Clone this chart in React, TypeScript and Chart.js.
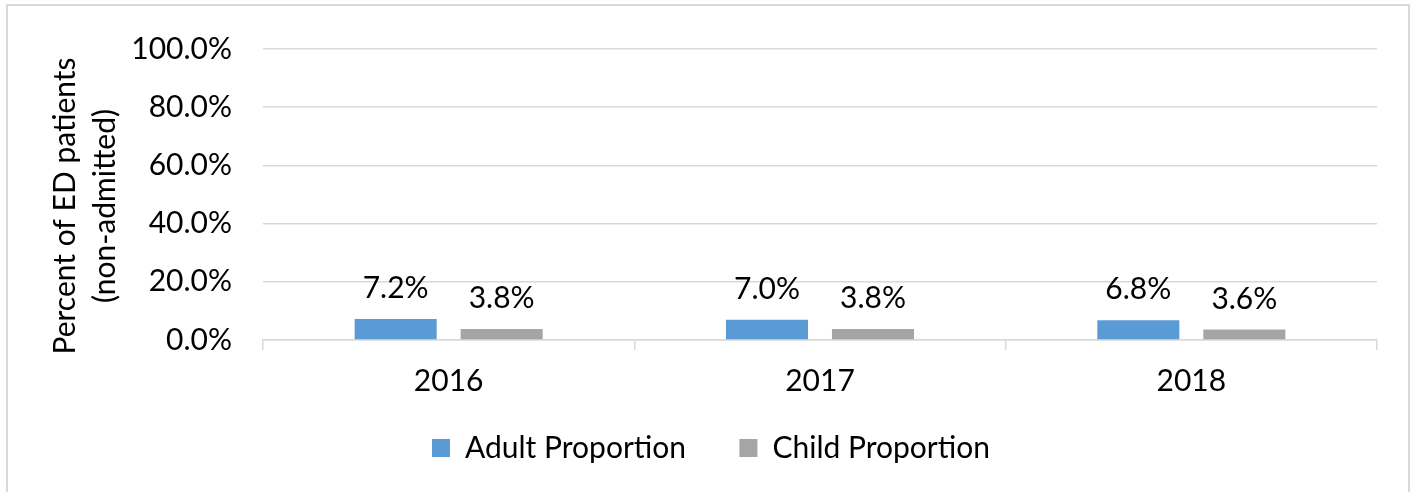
import React, { useEffect, useRef } from "react";
import { Chart, registerables } from "chart.js";

Chart.register(...registerables);

const categories = ["2016", "2017", "2018"];
const adultValues = [7.2, 7.0, 6.8];
const childValues = [3.8, 3.8, 3.6];
const seriesNames = ["Adult Proportion", "Child Proportion"];
const yTitleLines = ["Percent of ED patients   ", "(non-admitted)   "];

const FONT = "Lato";

const valueLabels = {
  id: "valueLabels",
  afterDatasetsDraw(chart: any) {
    const ctx = chart.ctx;
    ctx.save();
    ctx.font = `30px ${FONT}`;
    ctx.fillStyle = "#000000";
    ctx.textAlign = "center";
    ctx.textBaseline = "alphabetic";
    chart.data.datasets.forEach((ds: any, di: number) => {
      const meta = chart.getDatasetMeta(di);
      meta.data.forEach((el: any, i: number) => {
        const v = ds.data[i] as number;
        ctx.fillText(v.toFixed(1) + "%", el.x, el.y - 21);
      });
    });
    ctx.restore();
  },
};

export default function App() {
  const ref = useRef<HTMLCanvasElement | null>(null);

  useEffect(() => {
    if (!ref.current) return;
    const chart = new Chart(ref.current, {
      type: "bar",
      data: {
        labels: categories,
        datasets: [
          {
            label: seriesNames[0],
            data: adultValues,
            backgroundColor: "#5B9BD5",
            categoryPercentage: 0.571,
            barPercentage: 0.774,
          },
          {
            label: seriesNames[1],
            data: childValues,
            backgroundColor: "#A5A5A5",
            categoryPercentage: 0.571,
            barPercentage: 0.774,
          },
        ],
      },
      options: {
        animation: false,
        responsive: false,
        maintainAspectRatio: false,
        devicePixelRatio: 1,
        layout: { padding: { left: 45, right: 38, top: 40, bottom: 19 } },
        plugins: {
          tooltip: { enabled: false },
          legend: {
            position: "bottom",
            labels: {
              font: { family: FONT, size: 30 },
              color: "#000000",
              boxWidth: 18,
              boxHeight: 18,
              padding: 38,
              generateLabels: (chart: any) => {
                const items = Chart.defaults.plugins.legend.labels.generateLabels(chart);
                return items.map((it: any, i: number) =>
                  i < items.length - 1 ? { ...it, text: it.text + "  " } : it
                );
              },
            },
          },
        },
        scales: {
          x: {
            afterFit: (s: any) => {
              s.height = 55;
            },
            grid: {
              display: true,
              drawOnChartArea: false,
              drawTicks: true,
              tickLength: 10,
              color: "#D9D9D9",
              lineWidth: 1.5,
            },
            border: { display: true, color: "#D9D9D9", width: 1.5 },
            ticks: {
              font: { family: FONT, size: 30 },
              color: "#000000",
              padding: 13,
              maxRotation: 0,
            },
          },
          y: {
            min: 0,
            max: 100,
            afterFit: (s: any) => {
              s.width = 218;
            },
            grid: {
              color: "#D9D9D9",
              lineWidth: 1.5,
              drawTicks: false,
            },
            border: { display: false },
            ticks: {
              stepSize: 20,
              padding: 31,
              font: { family: FONT, size: 30 },
              color: "#000000",
              callback: (v: any) => Number(v).toFixed(1) + "%",
            },
            title: {
              display: true,
              text: yTitleLines,
              font: { family: FONT, size: 30, lineHeight: 1.333 },
              color: "#000000",
              padding: { top: 0, bottom: 0 },
            },
          },
        },
      },
      plugins: [valueLabels],
    });
    return () => chart.destroy();
  }, []);

  return (
    <div
      style={{
        position: "fixed",
        left: 0,
        top: 0,
        width: 1415,
        height: 492,
        overflow: "hidden",
        background: "#ffffff",
      }}
    >
      <div
        style={{
          position: "absolute",
          left: 6,
          top: 4,
          width: 1404,
          height: 600,
          border: "2px solid #D9D9D9",
          boxSizing: "border-box",
        }}
      />
      <canvas
        ref={ref}
        width={1415}
        height={492}
        style={{ position: "absolute", left: 0, top: 0, width: 1415, height: 492 }}
      />
    </div>
  );
}
